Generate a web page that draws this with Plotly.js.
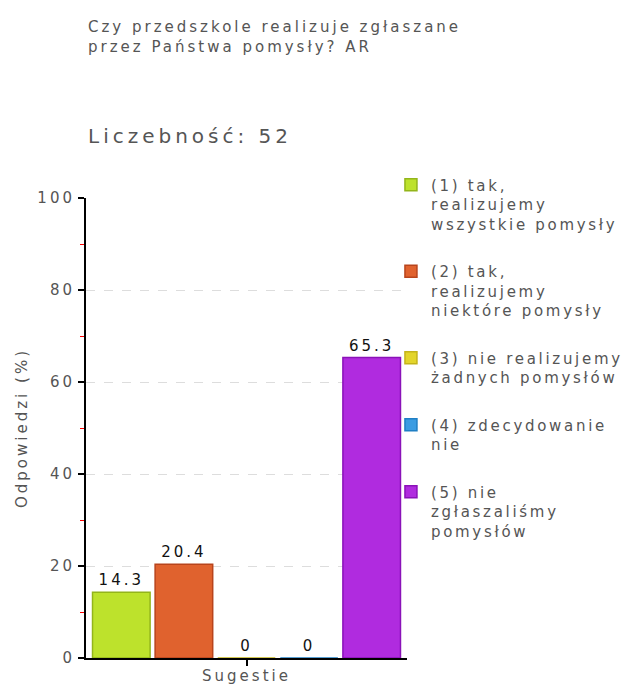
<!DOCTYPE html>
<html><head><meta charset="utf-8">
<script src="https://cdn.plot.ly/plotly-3.0.1.min.js"></script>
<style>
body{margin:0;background:#fff}
text{letter-spacing:0.2em}
.legendtext{letter-spacing:0.18em}
</style>
</head><body><div id="chart" style="width:627px;height:686px"></div>
<script>
const category = ['Sugestie'];
const seriesNames = [
  '(1) tak,<br>realizujemy<br>wszystkie pomysły',
  '(2) tak,<br>realizujemy<br>niektóre pomysły',
  '(3) nie realizujemy<br>żadnych pomysłów',
  '(4) zdecydowanie<br>nie',
  '(5) nie<br>zgłaszaliśmy<br>pomysłów'
];
const seriesValues = [14.3, 20.4, 0, 0, 65.3];
const fillColors = ['#bde22c', '#e0622e', '#e3d52b', '#3b9ce2', '#b02bdf'];
const lineColors = ['#93b51a', '#b8441c', '#c4b41a', '#1f7fc4', '#8a12b8'];

const traces = seriesNames.map((n, i) => ({
  type: 'bar',
  x: category,
  y: [seriesValues[i]],
  name: n,
  legendgroup: 'g' + i,
  text: [String(seriesValues[i])],
  textposition: 'outside',
  cliponaxis: false,
  textfont: {family: 'DejaVu Sans', size: 15, color: '#111'},
  marker: {color: fillColors[i], line: {color: lineColors[i], width: 1.5}},
  hoverinfo: 'skip'
}));

const layout = {
  width: 627, height: 686,
  margin: {l: 86, r: 220, t: 198, b: 28, autoexpand: false},
  paper_bgcolor: '#fff', plot_bgcolor: '#fff',
  font: {family: 'DejaVu Sans', color: '#555'},
  barmode: 'group',
  bargap: 0.025,
  bargroupgap: 0.08,
  showlegend: true,
  legend: {
    x: 0.95, xanchor: 'left', y: 1.064, yanchor: 'top',
    font: {family: 'DejaVu Sans', size: 15, color: '#555'},
    tracegroupgap: 25, itemwidth: 30, valign: 'top',
    maxheight: 600,
    bgcolor: 'rgba(0,0,0,0)'
  },
  xaxis: {
    showline: true, linecolor: '#000', linewidth: 2,
    ticks: 'outside', ticklen: 6, tickcolor: '#000', tickwidth: 2,
    ticklabelstandoff: -3,
    tickfont: {family: 'DejaVu Sans', size: 15, color: '#555'},
    showgrid: false, zeroline: false
  },
  yaxis: {
    range: [0, 100], dtick: 20,
    showline: true, linecolor: '#000', linewidth: 2,
    ticks: 'outside', ticklen: 6, tickcolor: '#000', tickwidth: 2,
    tickfont: {family: 'DejaVu Sans', size: 15, color: '#555'},
    showgrid: true, gridcolor: '#dddddd', griddash: 'dash', gridwidth: 1,
    zeroline: false,
    minor: {dtick: 10, ticks: 'outside', ticklen: 4, tickcolor: 'red', tickwidth: 1, showgrid: false},
    title: {text: 'Odpowiedzi (%)', font: {family: 'DejaVu Sans', size: 15, color: '#555'}, standoff: 6}
  },
  annotations: [
    {xref: 'paper', yref: 'paper', x: 0, y: 1.304, xanchor: 'left', yanchor: 'bottom', align: 'left',
     text: 'Czy przedszkole realizuje zgłaszane<br>przez Państwa pomysły? AR', showarrow: false,
     font: {family: 'DejaVu Sans', size: 15, color: '#555'}},
    {xref: 'paper', yref: 'paper', x: 0, y: 1.104, xanchor: 'left', yanchor: 'bottom', align: 'left',
     text: 'Liczebność: 52', showarrow: false,
     font: {family: 'DejaVu Sans', size: 20, color: '#555'}}
  ]
};

Plotly.newPlot('chart', traces, layout, {displayModeBar: false, staticPlot: true});
</script></body></html>
